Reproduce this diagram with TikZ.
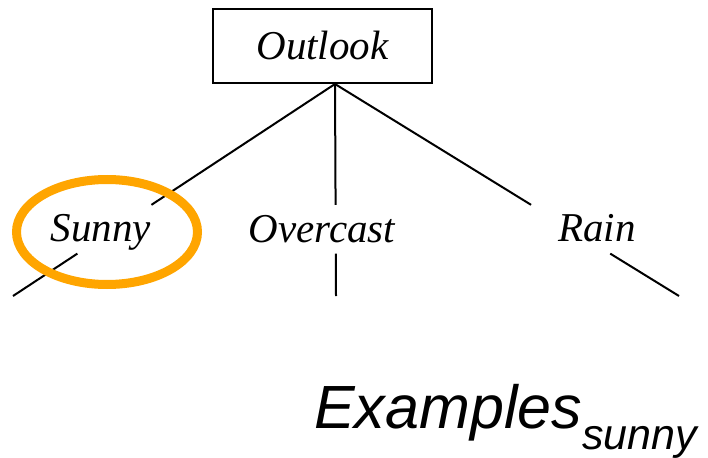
\documentclass[tikz,border=0pt]{standalone}
\usepackage{fontspec}
\newfontfamily\treefont{Liberation Serif}
\newfontfamily\notefont{Liberation Sans}
\usetikzlibrary{calc,shapes.geometric}
\definecolor{ringorange}{HTML}{FFA500}
\begin{document}
\begin{tikzpicture}[
  x=1pt, y=-1pt,
  attrbox/.style={draw,line width=2pt,minimum width=219pt,minimum height=74pt,
    inner sep=0pt,font=\treefont\itshape\fontsize{41}{41}\selectfont},
  valuelabel/.style={inner sep=0pt,font=\treefont\itshape\fontsize{41}{41}\selectfont},
  branch/.style={line width=2pt}
]
\useasboundingbox (0,0) rectangle (708,457);
\node[attrbox] (root) at (322.5,46) {Outlook};
\coordinate (fork) at ([xshift=12.5pt]root.south);
\coordinate (leafS) at (13,296);
\coordinate (leafO) at (336,296);
\coordinate (leafR) at (679,296);
\node[valuelabel] (sunny) at (101,232) {Sunny};
\node[valuelabel] (overcast) at (322,229) {Overcast};
\node[valuelabel] (rain) at (597,228) {Rain};
% branches, broken where the values sit
\foreach \leaf in {leafS,leafO,leafR} {
  \draw[branch] (fork) -- ($(fork)!0.57!(\leaf)$);
  \draw[branch] ($(fork)!0.80!(\leaf)$) -- (\leaf);
}
\node[draw=ringorange,line width=9pt,ellipse,minimum width=181pt,
  minimum height=105pt] (ring) at (107,232) {};
\node[anchor=base west,inner sep=0pt,
  font=\notefont\itshape\fontsize{61}{61}\selectfont] (examples) at (314,428)
  {Examples\raisebox{-21pt}{\fontsize{43}{43}\selectfont sunny}};
\end{tikzpicture}
\end{document}
